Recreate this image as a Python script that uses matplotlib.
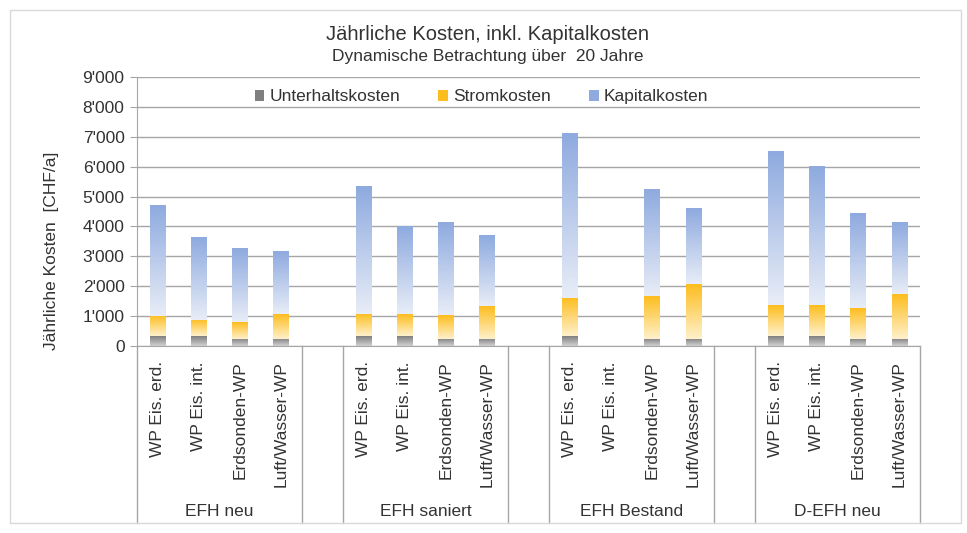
import numpy as np
import matplotlib
matplotlib.use('Agg')
import matplotlib.pyplot as plt
from matplotlib.colors import LinearSegmentedColormap
from matplotlib.patches import Rectangle, Patch
from matplotlib.ticker import FuncFormatter, MultipleLocator
import matplotlib.transforms as mtransforms

plt.rcParams['font.family'] = ['Liberation Sans', 'DejaVu Sans']

# Data (CHF/a)
groups = ['EFH neu', 'EFH saniert', 'EFH Bestand', 'D-EFH neu']
systems = ['WP Eis. erd.', 'WP Eis. int.', 'Erdsonden-WP', 'Luft/Wasser-WP']

unterhalt = [
    [330, 330, 250, 250],
    [330, 330, 250, 250],
    [330, 0, 250, 250],
    [330, 330, 250, 250],
]
strom = [
    [680, 540, 540, 830],
    [750, 730, 790, 1100],
    [1290, 0, 1420, 1810],
    [1030, 1030, 1010, 1500],
]
kapital = [
    [3690, 2750, 2470, 2100],
    [4270, 2930, 3110, 2360],
    [5510, 0, 3560, 2540],
    [5140, 4620, 3160, 2400],
]

series_names = ['Unterhaltskosten', 'Stromkosten', 'Kapitalkosten']
# (bottom colour, top colour) of each gradient
grad_colors = [('#d2d2d2', '#7f7f7f'), ('#fff1cc', '#fdbd1e'), ('#e8edf7', '#8eaadf')]

text_col = '#333333'
line_col = '#a6a6a6'

fig = plt.figure(figsize=(9.67, 5.33), dpi=100)
ax = fig.add_axes([137 / 967, 1 - 346 / 533, 783 / 967, 269 / 533])

slot = len(systems) + 1
x = np.array([[g * slot + s for s in range(len(systems))] for g in range(len(groups))])

u = np.array(unterhalt, float)
st = np.array(strom, float)
k = np.array(kapital, float)

bw = 0.38
containers = []
containers.append(ax.bar(x.ravel(), u.ravel(), bw, color='none', linewidth=0))
containers.append(ax.bar(x.ravel(), st.ravel(), bw, bottom=u.ravel(), color='none', linewidth=0))
containers.append(ax.bar(x.ravel(), k.ravel(), bw, bottom=(u + st).ravel(), color='none', linewidth=0))

grad = np.linspace(0, 1, 256).reshape(-1, 1)
for cont, (c0, c1) in zip(containers, grad_colors):
    cmap = LinearSegmentedColormap.from_list('g', [c0, c1])
    for rect in cont:
        h = rect.get_height()
        if h <= 0:
            continue
        x0, y0, w = rect.get_x(), rect.get_y(), rect.get_width()
        ax.imshow(grad, cmap=cmap, origin='lower', aspect='auto',
                  extent=[x0, x0 + w, y0, y0 + h], zorder=2, interpolation='bilinear')

n_slots = len(groups) * slot - 1
ax.set_xlim(-0.5, n_slots - 0.5)
ax.set_ylim(0, 9000)
ax.set_aspect('auto')

ax.yaxis.set_major_locator(MultipleLocator(1000))
ax.yaxis.set_major_formatter(FuncFormatter(lambda v, p: f"{int(v):,}".replace(',', "'")))
ax.grid(axis='y', color=line_col, linewidth=1)
ax.set_axisbelow(True)
for side in ['top', 'right']:
    ax.spines[side].set_visible(False)
for side in ['left', 'bottom']:
    ax.spines[side].set_color(line_col)
ax.tick_params(axis='y', length=5, color=line_col, labelsize=12.5, labelcolor=text_col, pad=4)

ax.set_xticks(x.ravel())
ax.set_xticklabels(systems * len(groups), rotation=90, va='top', ha='center')
ax.tick_params(axis='x', length=0, labelsize=12.5, labelcolor=text_col, pad=11)

# separators of the category axis
trans = mtransforms.blended_transform_factory(ax.transData, ax.transAxes)
bottom_frac = (346 - 523) / 269
seps = [-0.5, n_slots - 0.5]
for g in range(len(groups) - 1):
    seps += [g * slot + len(systems) - 0.5, g * slot + len(systems) + 0.5]
for sx in seps:
    ax.plot([sx, sx], [0, bottom_frac], transform=trans, color=line_col, lw=1, clip_on=False)

label_frac = (346 - 511) / 269
for g, name in enumerate(groups):
    ax.text(x[g].mean(), label_frac, name, transform=trans, ha='center', va='center',
            fontsize=12.5, color=text_col)

handles = [Patch(facecolor=c1, edgecolor='none') for _, c1 in grad_colors]
ax.legend(handles, series_names, loc='center', bbox_to_anchor=(0.44, 0.926), ncol=3,
          frameon=False, fontsize=12.5, handlelength=0.55, handleheight=0.6,
          handletextpad=0.3, columnspacing=2.2, labelcolor=text_col)

fig.text(52 / 967, 1 - 251 / 533, 'Jährliche Kosten  [CHF/a]', rotation=90, ha='center',
         va='center', fontsize=12.5, color=text_col)
fig.text(488 / 967, 1 - 35 / 533, 'Jährliche Kosten, inkl. Kapitalkosten', ha='center',
         va='center', fontsize=14.5, color=text_col)
fig.text(488 / 967, 1 - 57 / 533, 'Dynamische Betrachtung über  20 Jahre', ha='center',
         va='center', fontsize=12.5, color=text_col)

fig.add_artist(Rectangle((10 / 967, 1 - 523 / 533), 951 / 967, 513 / 533,
                         transform=fig.transFigure, fill=False, edgecolor='#d9d9d9', lw=1))

fig.savefig('out.png', dpi=100)
